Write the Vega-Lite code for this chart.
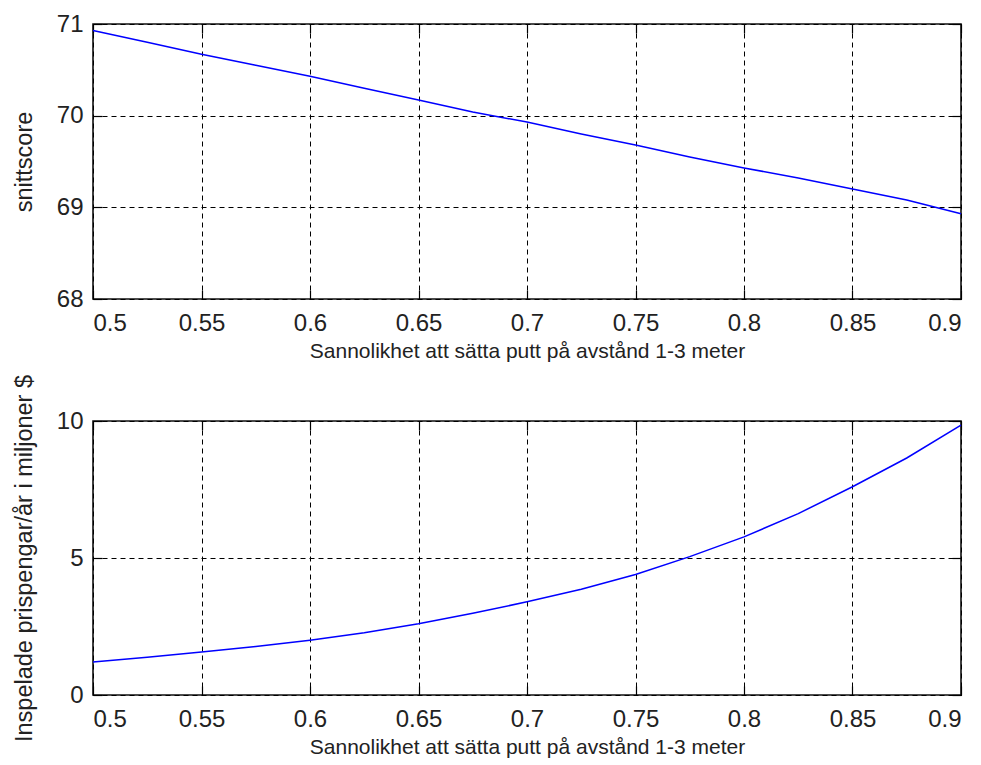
{
  "$schema": "https://vega.github.io/schema/vega-lite/v6.json",
  "padding": {"left": 11, "top": 11, "right": 4, "bottom": 4},
  "background": "white",
  "datasets": {
    "score": [
      {"p": 0.5, "v": 70.93}, {"p": 0.525, "v": 70.80}, {"p": 0.55, "v": 70.67}, {"p": 0.575, "v": 70.55},
      {"p": 0.6, "v": 70.43}, {"p": 0.625, "v": 70.30}, {"p": 0.65, "v": 70.17}, {"p": 0.675, "v": 70.04},
      {"p": 0.7, "v": 69.93}, {"p": 0.725, "v": 69.80}, {"p": 0.75, "v": 69.68}, {"p": 0.775, "v": 69.55},
      {"p": 0.8, "v": 69.43}, {"p": 0.825, "v": 69.32}, {"p": 0.85, "v": 69.20}, {"p": 0.875, "v": 69.08},
      {"p": 0.9, "v": 68.93}
    ],
    "money": [
      {"p": 0.5, "v": 1.2}, {"p": 0.525, "v": 1.38}, {"p": 0.55, "v": 1.57}, {"p": 0.575, "v": 1.77},
      {"p": 0.6, "v": 2.0}, {"p": 0.625, "v": 2.27}, {"p": 0.65, "v": 2.6}, {"p": 0.675, "v": 2.98},
      {"p": 0.7, "v": 3.4}, {"p": 0.725, "v": 3.86}, {"p": 0.75, "v": 4.4}, {"p": 0.775, "v": 5.05},
      {"p": 0.8, "v": 5.77}, {"p": 0.825, "v": 6.62}, {"p": 0.85, "v": 7.6}, {"p": 0.875, "v": 8.65},
      {"p": 0.9, "v": 9.85}
    ]
  },
  "config": {
    "font": "Liberation Sans",
    "view": {"stroke": "#111111", "strokeWidth": 1.6},
    "axis": {
      "domain": false,
      "grid": true,
      "gridColor": "black",
      "gridDash": [5, 4],
      "gridWidth": 1,
      "gridOpacity": 1,
      "ticks": true,
      "tickColor": "black",
      "tickSize": -9,
      "tickWidth": 1.2,
      "labelFontSize": 24,
      "labelColor": "#222222",
      "labelFont": "Liberation Sans",
      "titleFont": "Liberation Sans",
      "titleFontWeight": "normal",
      "titleColor": "#222222"
    },
    "axisX": {"labelPadding": 21, "titlePadding": 5, "titleFontSize": 21},
    "axisY": {"labelPadding": 19, "titlePadding": 20, "titleFontSize": 23.5}
  },
  "vconcat": [
    {
      "width": 868,
      "height": 275,
      "data": {"name": "score"},
      "encoding": {
        "x": {"field": "p", "type": "quantitative", "scale": {"domain": [0.5, 0.9], "nice": false, "zero": false}},
        "y": {"field": "v", "type": "quantitative", "scale": {"domain": [68, 71], "nice": false, "zero": false}}
      },
      "layer": [
        {
          "mark": {"type": "line", "color": "#0000ff", "strokeWidth": 1.5},
          "encoding": {
            "x": {"field": "p", "type": "quantitative",
                  "axis": {"values": [0.5, 0.55, 0.6, 0.65, 0.7, 0.75, 0.8, 0.85, 0.9], "format": "~g", "title": "Sannolikhet att sätta putt på avstånd 1-3 meter"}},
            "y": {"field": "v", "type": "quantitative",
                  "axis": {"values": [68, 69, 70, 71], "format": "d", "title": "snittscore"}}
          }
        },
        {
          "mark": {"type": "line", "strokeOpacity": 0},
          "encoding": {
            "x": {"field": "p", "type": "quantitative",
                  "axis": {"orient": "top", "values": [0.5, 0.55, 0.6, 0.65, 0.7, 0.75, 0.8, 0.85, 0.9], "labels": false, "grid": false, "title": null}},
            "y": {"field": "v", "type": "quantitative",
                  "axis": {"orient": "right", "values": [68, 69, 70, 71], "labels": false, "grid": false, "title": null}}
          }
        }
      ],
      "resolve": {"axis": {"x": "independent", "y": "independent"}}
    },
    {
      "width": 868,
      "height": 274,
      "data": {"name": "money"},
      "encoding": {
        "x": {"field": "p", "type": "quantitative", "scale": {"domain": [0.5, 0.9], "nice": false, "zero": false}},
        "y": {"field": "v", "type": "quantitative", "scale": {"domain": [0, 10], "nice": false, "zero": false}}
      },
      "layer": [
        {
          "mark": {"type": "line", "color": "#0000ff", "strokeWidth": 1.5},
          "encoding": {
            "x": {"field": "p", "type": "quantitative",
                  "axis": {"values": [0.5, 0.55, 0.6, 0.65, 0.7, 0.75, 0.8, 0.85, 0.9], "format": "~g", "title": "Sannolikhet att sätta putt på avstånd 1-3 meter"}},
            "y": {"field": "v", "type": "quantitative",
                  "axis": {"values": [0, 5, 10], "format": "d", "title": "Inspelade prispengar/år i miljoner $"}}
          }
        },
        {
          "mark": {"type": "line", "strokeOpacity": 0},
          "encoding": {
            "x": {"field": "p", "type": "quantitative",
                  "axis": {"orient": "top", "values": [0.5, 0.55, 0.6, 0.65, 0.7, 0.75, 0.8, 0.85, 0.9], "labels": false, "grid": false, "title": null}},
            "y": {"field": "v", "type": "quantitative",
                  "axis": {"orient": "right", "values": [0, 5, 10], "labels": false, "grid": false, "title": null}}
          }
        }
      ],
      "resolve": {"axis": {"x": "independent", "y": "independent"}}
    }
  ],
  "spacing": 122,
  "bounds": "flush"
}
